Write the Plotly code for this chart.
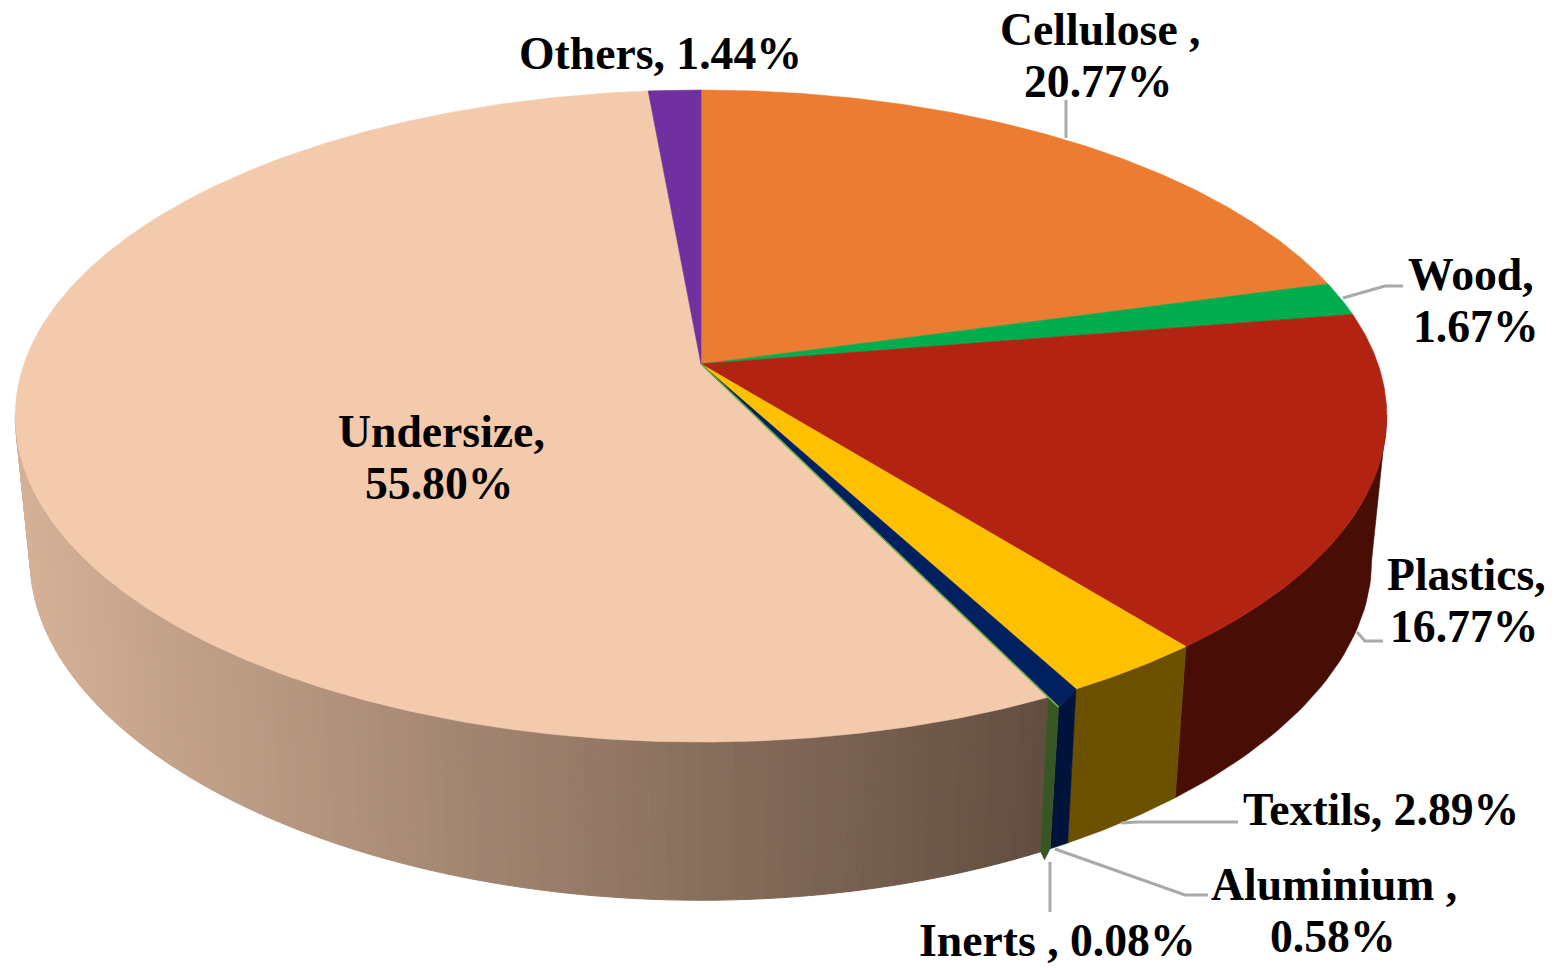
import numpy as np
import plotly.graph_objects as go

# Data, clockwise from 12 o'clock
categories = ["Cellulose", "Wood", "Plastics", "Textils", "Aluminium", "Inerts", "Undersize", "Others"]
shares = [20.77, 1.67, 16.77, 2.89, 0.58, 0.08, 55.80, 1.44]
top_colors = ["#EC7C31", "#00AD4E", "#B22312", "#FFC000", "#002060", "#70AD47", "#F4CAAD", "#7030A0"]
side_colors = ["#7A4019", "#005A28", "#480D05", "#6B5000", "#00133A", "#375623", None, "#3A1953"]
undersize_side_stops = ["#D4B096", "#624E40"]
label_lines = [
    ["Cellulose ,", "{v}"], ["Wood,", "{v}"], ["Plastics,", "{v}"], ["Textils, {v}"],
    ["Aluminium ,", "{v}"], ["Inerts , {v}"], ["Undersize,", "{v}"], ["Others, {v}"],
]
label_centers = [
    [(1100, 29), (1098, 81)], [(1471, 274), (1476, 326)], [(1466, 574), (1464, 626)], [(1381, 809)],
    [(1334, 884), (1333, 936)], [(1057, 940)], [(441, 431), (439, 483)], [(660, 53)],
]
leaders = [
    [(1066, 100), (1066, 138)],
    [(1343, 298), (1385, 286), (1403, 286)],
    [(1357, 632), (1365, 641), (1383, 641)],
    [(1121, 823), (1137, 822), (1238, 822)],
    [(1055, 849), (1185, 895), (1208, 895)],
    [(1050, 862), (1050, 912)],
]

# Projection of the tilted disc onto the page (pixel space)
APEX = (701, 364)
A, B, K = 677.0, 317.7, 0.1595
S_BOTTOM = 0.978
BOT_Y0, BOT_B, BOT_K = 509.0, 313.0, 0.20
INERT_EXPLODE = 1.03
INERT_WALL_SHARE = 0.23  # share of rim the inert wall visibly covers at the foot


def top_xy(theta, r=1.0):
    X, Y = np.sin(theta), np.cos(theta)
    w = 1 + K * Y
    return APEX[0] + r * A * X / w, APEX[1] - r * B * Y / w


def bottom_xy(theta):
    X, Y = np.sin(theta), np.cos(theta)
    return APEX[0] + S_BOTTOM * A * X / (1 + K * Y), BOT_Y0 - BOT_B * Y / (1 + BOT_K * Y)


def hex_mix(c1, c2, t):
    a = [int(c1[i:i + 2], 16) for i in (1, 3, 5)]
    b = [int(c2[i:i + 2], 16) for i in (1, 3, 5)]
    return "#%02X%02X%02X" % tuple(round(p + (q - p) * t) for p, q in zip(a, b))


def poly(x, y, color, lw=0.6):
    return go.Scatter(x=list(x), y=list(y), mode="lines", fill="toself", fillcolor=color,
                      line=dict(color=color, width=lw), hoverinfo="skip", showlegend=False)


total = sum(shares)
edges = np.cumsum([0] + shares) / total * 2 * np.pi
fig = go.Figure()

VIS_START = np.deg2rad(99)
VIS_END = np.deg2rad(261)

# Undersize wall: shaded strips
t0, t1 = edges[6], min(edges[7], VIS_END)
cuts = np.linspace(t0, t1, 91)
for a, b in zip(cuts[:-1], cuts[1:]):
    th = np.linspace(a, b, 4)
    xt, yt = top_xy(th)
    xb, yb = bottom_xy(th)
    f = float(np.clip((xt.mean() - 20) / (1045 - 20), 0, 1))
    col = hex_mix(undersize_side_stops[0], undersize_side_stops[1], f)
    fig.add_trace(poly(np.r_[xt, xb[::-1], xt[0]], np.r_[yt, yb[::-1], yt[0]], col, 1))

# Plastics and textiles walls
for i in (2, 3):
    th = np.linspace(max(edges[i], VIS_START), edges[i + 1], 40)
    xt, yt = top_xy(th)
    xb, yb = bottom_xy(th)
    fig.add_trace(poly(np.r_[xt, xb[::-1], xt[0]], np.r_[yt, yb[::-1], yt[0]], side_colors[i]))

# Aluminium and inerts walls meet the exploded inert sliver
inert_out = top_xy(edges[6], INERT_EXPLODE)
inert_in = top_xy(edges[6])
foot_mid = bottom_xy(edges[6] - INERT_WALL_SHARE / total * 2 * np.pi)
foot_in = bottom_xy(edges[6])
th = np.linspace(edges[4], edges[6] - INERT_WALL_SHARE / total * 2 * np.pi, 8)
xb, yb = bottom_xy(th)
xt0, yt0 = top_xy(edges[4])
fig.add_trace(poly(np.r_[xt0, inert_out[0], xb[::-1], xt0], np.r_[yt0, inert_out[1], yb[::-1], yt0], side_colors[4]))
fig.add_trace(poly(
    [inert_in[0], inert_out[0], foot_mid[0], foot_in[0] + 4, foot_in[0], inert_in[0]],
    [inert_in[1], inert_out[1], foot_mid[1], foot_in[1] + 8, foot_in[1], inert_in[1]],
    side_colors[5]))

# Top faces
for i in (0, 1, 2, 3, 6, 7):
    th = np.linspace(edges[i], edges[i + 1], max(4, int(shares[i] * 8)))
    x, y = top_xy(th)
    fig.add_trace(poly(np.r_[APEX[0], x, APEX[0]], np.r_[APEX[1], y, APEX[1]], top_colors[i]))
th = np.linspace(edges[4], edges[6], 6)
radii = np.linspace(1.0, INERT_EXPLODE, 6)
x, y = top_xy(th, radii)
fig.add_trace(poly(np.r_[APEX[0], x, APEX[0]], np.r_[APEX[1], y, APEX[1]], top_colors[4]))
fig.add_trace(go.Scatter(x=[APEX[0], inert_out[0]], y=[APEX[1], inert_out[1]], mode="lines",
                         line=dict(color=top_colors[5], width=1.6), hoverinfo="skip", showlegend=False))

for seg in leaders:
    fig.add_trace(go.Scatter(x=[p[0] for p in seg], y=[p[1] for p in seg], mode="lines",
                             line=dict(color="#A9A9A9", width=3), hoverinfo="skip", showlegend=False))

for i, lines in enumerate(label_lines):
    val = f"{shares[i]:.2f}%"
    for text, (cx, cy) in zip(lines, label_centers[i]):
        fig.add_annotation(x=cx, y=cy, text=text.format(v=val), showarrow=False,
                           xanchor="center", yanchor="middle",
                           font=dict(family="Liberation Serif", size=45.7, color="#000000", weight="bold"))

fig.update_layout(
    width=1562, height=971, margin=dict(l=0, r=0, t=0, b=0),
    paper_bgcolor="white", plot_bgcolor="white", showlegend=False,
    xaxis=dict(range=[0, 1562], visible=False, fixedrange=True),
    yaxis=dict(range=[971, 0], visible=False, fixedrange=True),
)
fig.write_html("out.html", config={"displayModeBar": False},
               post_script="document.body.style.margin='0';document.body.style.overflow='hidden';")
